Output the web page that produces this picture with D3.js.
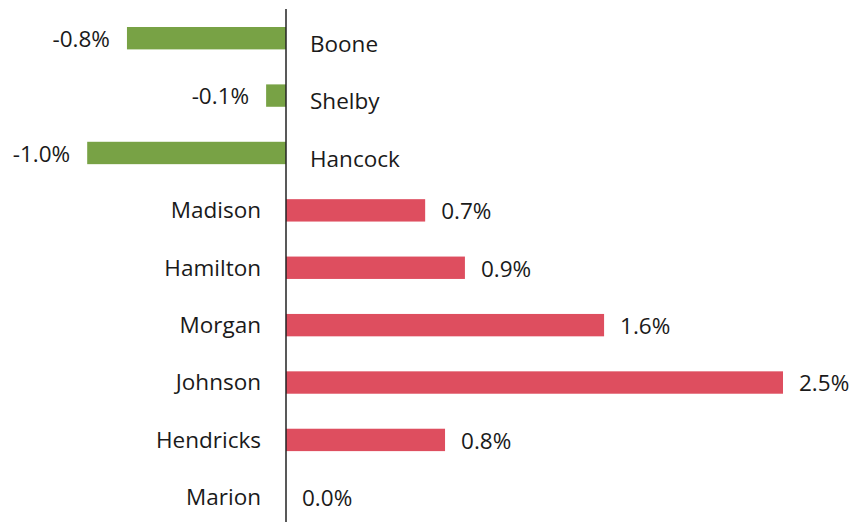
<!DOCTYPE html>
<html>
<head>
<meta charset="utf-8">
<script src="https://cdn.jsdelivr.net/npm/d3@7"></script>
<style>
html,body{margin:0;padding:0;background:#fff;}
svg{display:block;}
text{font-family:"Open Sans","Noto Sans",sans-serif;fill:#1a1a1a;}
</style>
</head>
<body>
<svg id="chart" width="856" height="522"></svg>
<script>
const categories = ["Boone","Shelby","Hancock","Madison","Hamilton","Morgan","Johnson","Hendricks","Marion"];
const values = [-0.8,-0.1,-1.0,0.7,0.9,1.6,2.5,0.8,0.0];
const labels = ["-0.8%","-0.1%","-1.0%","0.7%","0.9%","1.6%","2.5%","0.8%","0.0%"];

const W = 856, H = 522;
const svg = d3.select("#chart");
const data = categories.map((c,i)=>({cat:c,val:values[i],lab:labels[i]}));

const x = d3.scaleLinear().domain([0, 2.5]).range([286, 783]);
const y = d3.scaleBand().domain(categories).range([9.5, 526]).paddingInner(0.61).paddingOuter(0.305);

const green = "#78a245", red = "#de4e5f";
const fs = 22.5;

svg.selectAll("rect.bar").data(data).enter().append("rect")
  .attr("class","bar")
  .attr("x", d => Math.min(x(0), x(d.val)))
  .attr("y", d => y(d.cat))
  .attr("width", d => Math.abs(x(d.val)-x(0)))
  .attr("height", y.bandwidth())
  .attr("fill", d => d.val < 0 ? green : red);

// axis line
svg.append("line")
  .attr("x1", x(0)).attr("x2", x(0))
  .attr("y1", 9).attr("y2", H)
  .attr("stroke","#222").attr("stroke-width",1.5);

// category labels
svg.selectAll("text.cat").data(data).enter().append("text")
  .attr("class","cat")
  .attr("x", d => d.val < 0 ? x(0)+24 : x(0)-25)
  .attr("y", d => y(d.cat)+y.bandwidth()/2 + (d.val < 0 ? 6 : 0))
  .attr("dy","0.35em")
  .attr("text-anchor", d => d.val < 0 ? "start" : "end")
  .style("font-size", fs+"px")
  .text(d => d.cat);

// value labels
svg.selectAll("text.val").data(data).enter().append("text")
  .attr("class","val")
  .attr("x", d => d.val < 0 ? x(d.val)-17 : x(d.val)+16)
  .attr("y", d => y(d.cat)+y.bandwidth()/2 + 1)
  .attr("dy","0.35em")
  .attr("text-anchor", d => d.val < 0 ? "end" : "start")
  .style("font-size", fs+"px")
  .text(d => d.lab);
</script>
</body>
</html>
